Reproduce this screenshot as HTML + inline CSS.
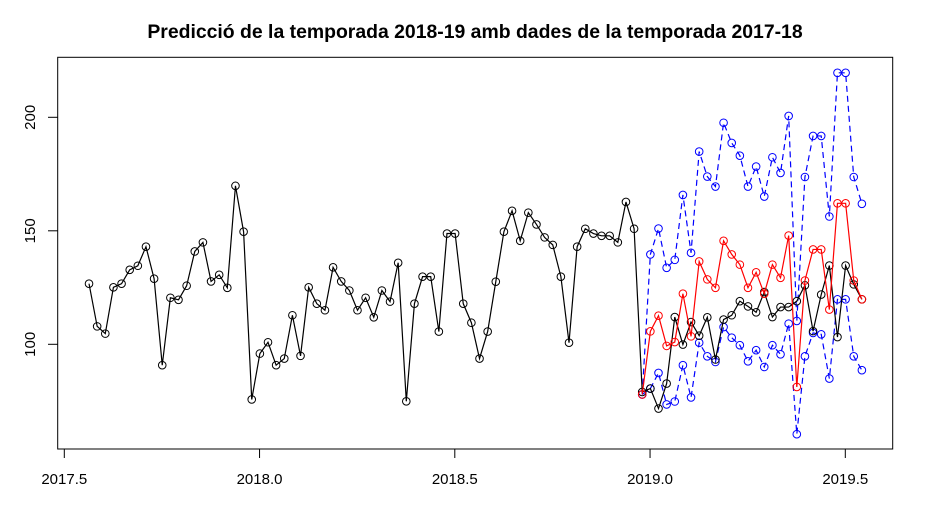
<!DOCTYPE html>
<html><head><meta charset="utf-8"><style>
html,body{margin:0;padding:0;background:#fff;}
svg{display:block;font-family:"Liberation Sans",Arial,sans-serif;}
</style></head><body>
<svg id="chart" width="950" height="507" viewBox="0 0 950 507" xmlns="http://www.w3.org/2000/svg">
<rect width="950" height="507" fill="#fff"/>
<text x="475" y="38" text-anchor="middle" font-size="19.4" font-weight="bold">Predicció de la temporada 2018-19 amb dades de la temporada 2017-18</text>
<rect x="57.7" y="57.3" width="835" height="391.7" fill="none" stroke="#000" stroke-width="1"/>
<g id="axes"></g>
<g id="series"></g>
</svg>
<script>
const startTime = 2017.5633;
const freq = 48;
const historical = [126.7,107.9,104.7,125.1,126.7,132.8,134.6,143,128.9,90.8,120.5,119.6,125.8,140.9,144.9,127.7,130.6,124.9,169.8,149.6,75.7,95.9,100.9,90.8,93.7,112.8,94.9,125.1,117.9,115,133.9,127.7,123.7,115,120.5,111.9,123.7,118.8,135.9,74.9,117.9,129.8,129.8,105.6,148.8,148.8,117.9,109.5,93.7,105.6,127.6,149.6,158.8,145.6,158,152.8,147.1,143.8,129.8,100.7,143,150.9,148.8,147.8,147.8,144.9,162.7,150.9];
const actual2019 = [79,80.5,71.7,82.7,112,99.9,109.8,103.8,111.9,93.3,110.9,112.8,119,116.7,114.1,123,112,116.4,116.4,119,126,105.8,121.9,134.7,103.2,134.7,126.4,119.8];
const forecast = [77.9,105.7,112.6,99.3,101,122.3,103.5,136.5,128.6,124.9,145.6,139.6,135.1,124.9,131.7,122.3,135.1,129.3,147.9,81.2,128.1,141.8,141.8,115.3,162.1,162.1,128.1,119.8];
const upper = [77.9,139.6,151,133.7,137.2,165.8,140.3,184.9,173.9,169.5,197.6,188.7,183.1,169.5,178.3,165.1,182.4,175.5,200.6,110.3,173.7,191.8,191.8,156.3,219.6,219.6,173.7,161.9];
const lower = [77.9,80.5,87.4,73.5,74.8,90.8,76.6,100.7,94.7,92.2,107.6,102.9,99.6,92.5,97.4,90,99.6,95.6,109.1,60.4,94.7,105,104.4,84.9,119.8,119.8,94.7,88.6];
const xTicks = [2017.5,2018.0,2018.5,2019.0,2019.5];
const xTickLabels = ["2017.5","2018.0","2018.5","2019.0","2019.5"];
const yTicks = [100,150,200];
const yTickLabels = ["100","150","200"];

const NS = "http://www.w3.org/2000/svg";
function xs(t){ return 64.3 + (t - 2017.5) * 390.5; }
function ys(v){ return 344.3 - (v - 100) * 2.27; }
function mk(tag, attrs, parent){
  const e = document.createElementNS(NS, tag);
  for (const k in attrs) e.setAttribute(k, attrs[k]);
  parent.appendChild(e); return e;
}
const axes = document.getElementById('axes');
xTicks.forEach((t,i)=>{
  const l = mk('line',{x1:xs(t),x2:xs(t),y1:449,y2:458,stroke:'#000','stroke-width':1},axes);
  
  
  const tx = mk('text',{x:xs(t),y:484,'text-anchor':'middle','font-size':15},axes);
  tx.textContent = xTickLabels[i];
  
  
});
yTicks.forEach((v,i)=>{
  const l = mk('line',{x1:48,x2:57.7,y1:ys(v),y2:ys(v),stroke:'#000','stroke-width':1},axes);
  
  
  const tx = mk('text',{x:0,y:0,'text-anchor':'middle','font-size':15,transform:`translate(35,${ys(v)}) rotate(-90)`},axes);
  tx.textContent = yTickLabels[i];
  
  
});
const series = document.getElementById('series');
function draw(vals, offset, color, dash, name){
  const g = mk('g',{},series);
  
  
  const pts = vals.map((v,i)=>[xs(startTime + (offset+i)/freq), ys(v)]);
  const p = mk('polyline',{points:pts.map(p=>p.join(',')).join(' '),fill:'none',stroke:color,'stroke-width':1.2},g);
  if (dash) p.setAttribute('stroke-dasharray', dash);
  pts.forEach(pt=>{
    const c = mk('circle',{cx:pt[0],cy:pt[1],r:3.8,fill:'none',stroke:color,'stroke-width':1},g);
    
    
  });
}
draw(upper, historical.length, '#0000ff', '6,4', 'upper-bound-series');
draw(lower, historical.length, '#0000ff', '6,4', 'lower-bound-series');
draw(historical.concat(actual2019), 0, '#000', null, 'observed-series');
draw(forecast, historical.length, '#ff0000', null, 'forecast-series');
</script>
</body></html>
